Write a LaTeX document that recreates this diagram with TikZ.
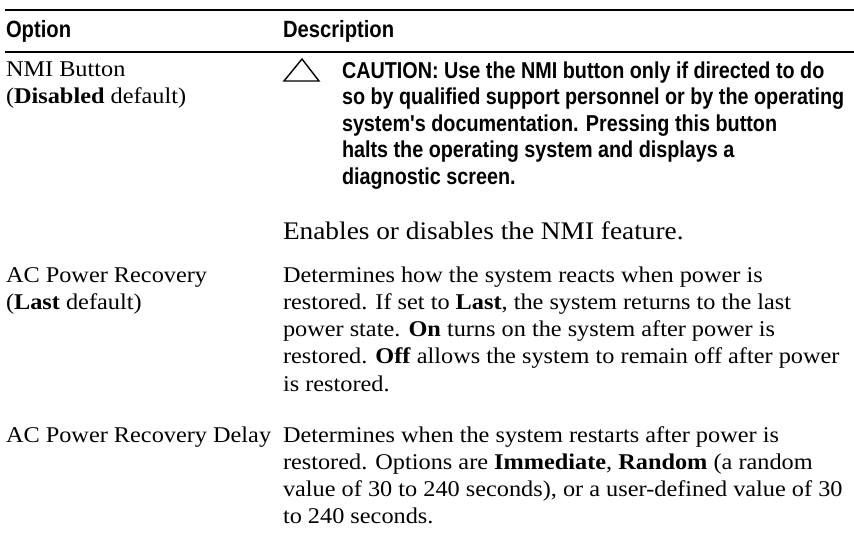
\documentclass[tikz,border=0pt]{standalone}
\usepackage{fontspec}
\setmainfont{Liberation Serif}
\newfontfamily\cautionfont[FakeStretch=0.86]{Liberation Sans}
\newfontfamily\bodyfont[FakeStretch=1.08]{Liberation Serif}
\usepackage{tikz}
\tikzset{optiontable/.style={x=1pt,y=-1pt,inner sep=0pt,outer sep=0pt},
    head/.style={anchor=base west,font=\cautionfont\bfseries\fontsize{23.5}{26}\selectfont},
    cell/.style={anchor=base west,align=left,font=\bodyfont\fontsize{22.5}{27.3}\selectfont},
    bigcell/.style={cell,font=\bodyfont\fontsize{25.3}{28}\selectfont},
    caution/.style={anchor=base west,align=left,font=\cautionfont\bfseries\fontsize{23}{26.5}\selectfont},
    rule/.style={line width=1.8pt},
    warnsign/.style={line width=1.4pt,line join=miter}}

\begin{document}
\begin{tikzpicture}[optiontable]
    \useasboundingbox (0,0) rectangle (854,542);
    % header
    \coordinate (topw) at (5,10);
    \coordinate (tope) at (854,10);
    \coordinate (midw) at (5,52);
    \coordinate (mide) at (854,52);
    \draw[rule] (topw) -- (tope);
    \draw[rule] (midw) -- (mide);
    \node[head](opt) at (6,37.5){Option};
    \node[head](desc) at (283,37.5){Description};

    % NMI button (multi-line nodes sit on their last baseline)
    \node[cell](nmi) at (6,103.3){NMI Button\\(\textbf{Disabled} default)};
    \draw[warnsign] (284,81) -- (302,59) -- (319,81) -- cycle;
    \node[caution](warn) at (342,184){CAUTION: Use the NMI button only if directed to do\\
        so by qualified support personnel or by the operating\\
        system's documentation. Pressing this button\\
        halts the operating system and displays a\\
        diagnostic screen.};
    \node[bigcell](nmifeat) at (283,239){Enables or disables the NMI feature.};

    % AC power recovery
    \node[cell](acrec) at (6,309.3){AC Power Recovery\\(\textbf{Last} default)};
    \node[cell](acrecdesc) at (283,391.2){Determines how the system reacts when power is\\
        restored. If set to \textbf{Last}, the system returns to the last\\
        power state. \textbf{On} turns on the system after power is\\
        restored. \textbf{Off} allows the system to remain off after power\\
        is restored.};

    % AC power recovery delay
    \node[cell](acdelay) at (6,442){AC Power Recovery Delay};
    \node[cell](acdelaydesc) at (283,523.9){Determines when the system restarts after power is\\
        restored. Options are \textbf{Immediate}, \textbf{Random} (a random\\
        value of 30 to 240 seconds), or a user-defined value of 30\\
        to 240 seconds.};
\end{tikzpicture}
\end{document}
